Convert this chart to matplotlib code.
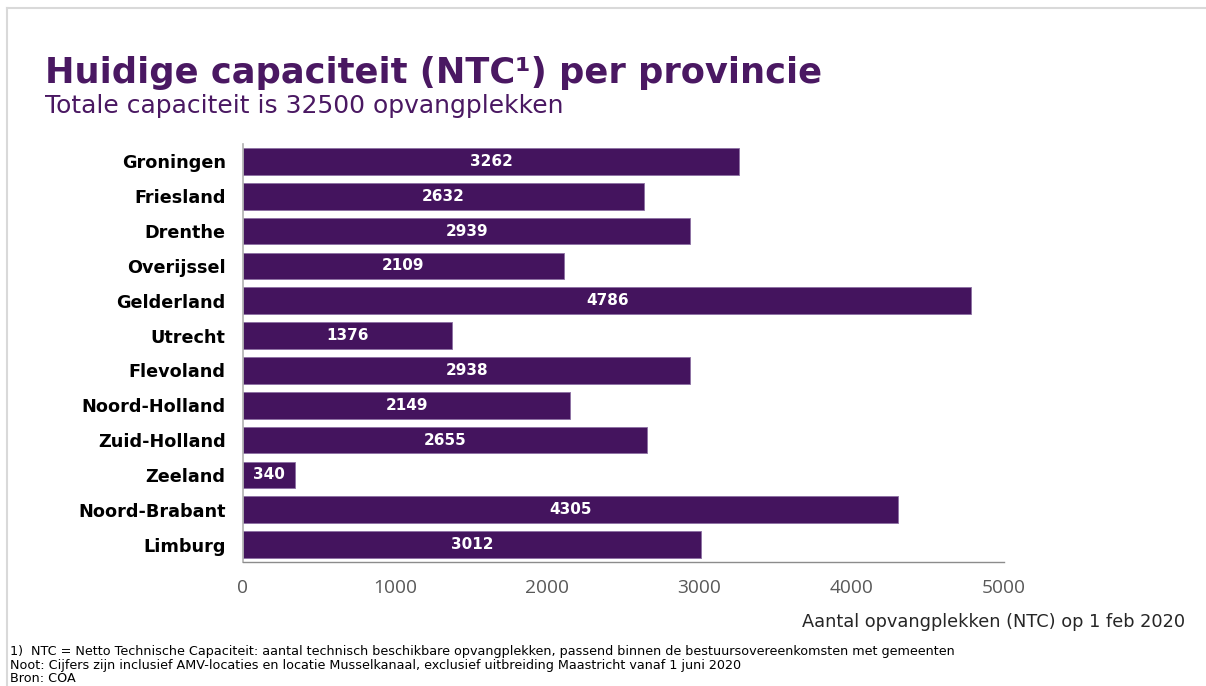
import matplotlib

matplotlib.use("Agg")
import matplotlib.pyplot as plt  # noqa: E402
from matplotlib.lines import Line2D  # noqa: E402

provinces = ["Groningen", "Friesland", "Drenthe", "Overijssel", "Gelderland",
             "Utrecht", "Flevoland", "Noord-Holland", "Zuid-Holland", "Zeeland",
             "Noord-Brabant", "Limburg"]
capacity = [3262, 2632, 2939, 2109, 4786, 1376, 2938, 2149, 2655, 340, 4305, 3012]
xticks = [0, 1000, 2000, 3000, 4000, 5000]

title = "Huidige capaciteit (NTC\u00b9) per provincie"
subtitle = "Totale capaciteit is 32500 opvangplekken"
xlabel = "Aantal opvangplekken (NTC) op 1 feb 2020"
notes = [
    "1)  NTC = Netto Technische Capaciteit: aantal technisch beschikbare opvangplekken, "
    "passend binnen de bestuursovereenkomsten met gemeenten",
    "Noot: Cijfers zijn inclusief AMV-locaties en locatie Musselkanaal, exclusief uitbreiding "
    "Maastricht vanaf 1 juni 2020",
    "Bron: COA",
]

PURPLE = "#44145e"
W, H = 1206, 686

plt.rcParams["font.family"] = ["DejaVu Sans"]
fig = plt.figure(figsize=(W / 100, H / 100), dpi=100)
ax = fig.add_axes([243 / W, 1 - 562 / H, (1004 - 243) / W, (562 - 144) / H])

ypos = list(range(len(provinces)))
ax.barh(ypos, capacity, height=0.77, color=PURPLE, edgecolor="#8c6fa3", linewidth=0.6)
for y, v in zip(ypos, capacity):
    ax.text(v / 2, y, str(v), color="white", fontsize=11, fontweight="bold",
            ha="center", va="center")

ax.set_ylim(len(provinces) - 0.5, -0.5)
ax.set_xlim(0, 5000)
ax.set_yticks(ypos)
ax.set_yticklabels(provinces, fontsize=12.7, fontweight="bold", color="black")
ax.set_xticks(xticks)
ax.set_xticklabels([str(t) for t in xticks], fontsize=13.8, color="#595959",
                   family="Open Sans")
ax.tick_params(axis="both", length=0)
ax.tick_params(axis="y", pad=12.5)
ax.tick_params(axis="x", pad=12.5)
for s in ["top", "right"]:
    ax.spines[s].set_visible(False)
ax.spines["left"].set_color("#b0b0b0")
ax.spines["bottom"].set_color("#8c8c8c")
ax.spines["left"].set_linewidth(1.2)
ax.spines["bottom"].set_linewidth(1.0)

fig.text(45 / W, 1 - 83 / H, title, fontsize=25.4, fontweight="bold", color="#4a1862",
         ha="left", va="baseline")
fig.text(45 / W, 1 - 113 / H, subtitle, fontsize=18, color="#4a1862",
         ha="left", va="baseline")
fig.text(1185 / W, 1 - 627 / H, xlabel, fontsize=12.8, color="#262626",
         ha="right", va="baseline")
for i, line in enumerate(notes):
    fig.text(10 / W, 1 - (655 + i * 13.5) / H, line, fontsize=9.2, color="black",
             ha="left", va="baseline")

# slide frame
fig.add_artist(Line2D([7 / W, 7 / W], [0, 1 - 8 / H], color="#d9d9d9", linewidth=1.5,
                      transform=fig.transFigure))
fig.add_artist(Line2D([7 / W, 1], [1 - 8 / H, 1 - 8 / H], color="#d9d9d9", linewidth=1.5,
                      transform=fig.transFigure))

fig.savefig("out.png", dpi=100)
plt.close(fig)
